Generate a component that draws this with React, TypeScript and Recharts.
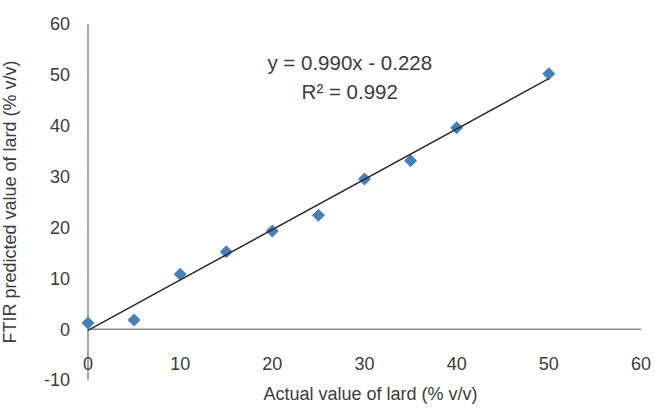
import React from 'react';
import {
  ScatterChart,
  Scatter,
  XAxis,
  YAxis,
  ReferenceLine,
  ReferenceDot,
} from 'recharts';

const actual = [0, 5, 10, 15, 20, 25, 30, 35, 40, 50];
const predicted = [1.2, 1.8, 10.8, 15.2, 19.3, 22.4, 29.5, 33.1, 39.6, 50.2];
const xTicks = [0, 10, 20, 30, 40, 50, 60];
const yTicks = [-10, 0, 10, 20, 30, 40, 50, 60];
const slope = 0.99;
const intercept = -0.228;
const trendRange = [0, 50];

const points = actual.map((x, i) => ({ x, y: predicted[i] }));
const trend = trendRange.map(x => ({ x, y: slope * x + intercept }));

const TEXT = '#3b3b3b';
const FONT = '"Liberation Sans", Arial, sans-serif';

const Diamond = (props: any) => {
  const { cx, cy } = props;
  const r = 6.5;
  return (
    <polygon
      points={`${cx},${cy - r} ${cx + r},${cy} ${cx},${cy + r} ${cx - r},${cy}`}
      fill="#4a7ebb"
    />
  );
};

const XTick = (props: any) => {
  const { x, y, payload } = props;
  return (
    <text x={x} y={y - 18} dy={6} textAnchor="middle" fill={TEXT} fontSize={18} fontFamily={FONT}>
      {payload.value}
    </text>
  );
};

const EquationLabel = (props: any) => {
  const { viewBox } = props;
  const cx = viewBox.x + (viewBox.width || 0) / 2;
  const cy = viewBox.y + (viewBox.height || 0) / 2;
  return (
    <g fontFamily={FONT} fontSize={20.5} fill={TEXT} textAnchor="middle">
      <text x={cx} y={cy + 7}>y = 0.990x - 0.228</text>
      <text x={cx} y={cy + 36}>R² = 0.992</text>
    </g>
  );
};

export default function App() {
  return (
    <div style={{ position: 'absolute', left: 0, top: 0, width: 655, height: 408, background: '#fff' }}>
      <ScatterChart width={655} height={408} margin={{ top: 24, right: 14, bottom: 0, left: 0 }}>
        <XAxis
          type="number"
          dataKey="x"
          domain={[0, 60]}
          ticks={xTicks}
          axisLine={false}
          tickLine={false}
          tickSize={0}
          height={28}
          tick={<XTick />}
          label={{
            value: 'Actual value of lard (% v/v)',
            position: 'insideBottom',
            offset: 8,
            dx: 6,
            fill: TEXT,
            fontSize: 18,
            fontFamily: FONT,
          }}
        />
        <YAxis
          type="number"
          dataKey="y"
          domain={[-10, 60]}
          ticks={yTicks}
          width={88}
          axisLine={{ stroke: '#8a8a8a', strokeWidth: 1.5 }}
          tickLine={false}
          tickSize={0}
          tickMargin={18}
          tick={{ fill: TEXT, fontSize: 18, fontFamily: FONT }}
          label={{
            value: 'FTIR predicted value of lard (% v/v)',
            angle: -90,
            position: 'insideLeft',
            offset: 10,
            fill: TEXT,
            fontSize: 18,
            fontFamily: FONT,
            style: { textAnchor: 'middle' },
          }}
        />
        <ReferenceLine y={0} stroke="#8a8a8a" strokeWidth={1.5} />
        <Scatter data={points} shape={<Diamond />} isAnimationActive={false} />
        <Scatter
          data={trend}
          line={{ stroke: '#2b2b2b', strokeWidth: 1.5 }}
          shape={() => <g />}
          isAnimationActive={false}
        />
        <ReferenceDot x={28.4} y={52.3} r={0} stroke="none" label={<EquationLabel />} />
      </ScatterChart>
    </div>
  );
}
